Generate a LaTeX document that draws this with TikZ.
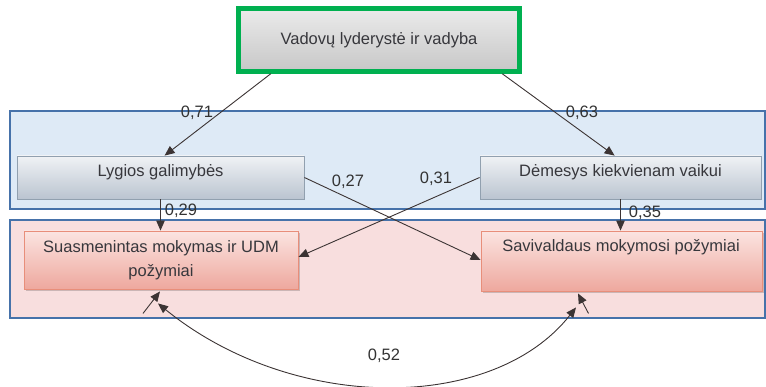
\documentclass[tikz,border=0pt]{standalone}
\usepackage{fontspec}
\setmainfont{Liberation Sans}
\usetikzlibrary{arrows.meta,calc,shadows}
\definecolor{bandblue}{RGB}{222,234,246}
\definecolor{bandline}{RGB}{70,114,170}
\definecolor{bandred}{RGB}{248,222,222}
\definecolor{grtop}{RGB}{240,242,245}
\definecolor{grbot}{RGB}{186,196,208}
\definecolor{grline}{RGB}{145,160,175}
\definecolor{rdtop}{RGB}{251,228,225}
\definecolor{rdbot}{RGB}{238,168,158}
\definecolor{rdline}{RGB}{232,142,122}
\definecolor{tgreen}{RGB}{0,176,80}
\definecolor{txt}{RGB}{55,55,60}
\definecolor{arr}{RGB}{60,52,52}
\begin{document}
\begin{tikzpicture}[x=1pt,y=-1pt,
  every node/.style={font=\fontsize{16.5}{24}\selectfont, text=txt},
  band/.style={draw=bandline, line width=1.1pt},
  graybox/.style={draw=grline, line width=0.8pt, top color=grtop, bottom color=grbot, inner sep=0pt},
  redbox/.style={draw=rdline, line width=0.9pt, top color=rdtop, bottom color=rdbot, inner sep=0pt,
     drop shadow={shadow xshift=2pt, shadow yshift=-2.5pt, fill=black, opacity=0.18}},
  conn/.style={draw=arr, line width=0.9pt, -{Triangle[length=10pt,width=8.5pt]}},
  lbl/.style={inner sep=0pt, text=black!80}
]
\useasboundingbox (0,0) rectangle (766,387);
% bands
\fill[bandblue] (10,111) rectangle (765,209);
\draw[band] (10,111) rectangle (765,209);
\fill[bandred] (10,220) rectangle (765,318);
\draw[band] (10,220) rectangle (765,318);
% top
\node[draw=tgreen, line width=4.5pt, top color=white!92!black, bottom color=black!22, minimum width=281pt, minimum height=63pt, inner sep=0pt] (top) at (379,40) {Vadovų lyderystė ir vadyba};
% gray boxes
\node[graybox, minimum width=287pt, minimum height=43pt] (lyg) at (160.5,177.5) {};
\node (lygT) at (160.5,172.5) {Lygios galimybės};
\node[graybox, minimum width=281pt, minimum height=43pt] (dem) at (620.5,177.5) {};
\node (demT) at (620.5,172.5) {Dėmesys kiekvienam vaikui};
% red boxes
\node[redbox, minimum width=274pt, minimum height=58pt, align=center] (sua) at (161,260) {Suasmenintas mokymas ir UDM\\požymiai};
\node[redbox, minimum width=281pt, minimum height=60pt] (sav) at (621.5,261) {};
\node (savT) at (621,247) {Savivaldaus mokymosi požymiai};
% connectors
\draw[conn] ($(top.south west)+(34.5,0)$) -- ($(lyg.north west)+(148,0)$);
\draw[conn] ($(top.south east)+(-19.5,0)$) -- ($(dem.north west)+(135,0)$);
\draw[conn] (lyg.east) -- ($(sav.west)+(0,-1)$);
\draw[conn] (dem.west) -- ($(sua.east)+(0,-3)$);
\draw[conn] (lyg.south) -- (lyg.south |- sua.north);
\draw[conn] (dem.south) -- (dem.south |- sav.north);
% stubs and curve
\coordinate (sl) at ($(sua.south)+(-18,24)$);
\coordinate (sr) at ($(sav.south)+(-33,22)$);
\coordinate (cl) at ($(sua.south)+(-3,14)$);
\coordinate (cr) at ($(sav.south)+(-45.5,16)$);
\draw[conn] (sl) -- ($(sua.south)+(-1,2)$);
\draw[conn] (sr) -- ($(sav.south)+(-43.5,2)$);
\draw[draw=arr, line width=0.9pt, {Triangle[length=10pt,width=8.5pt]}-{Triangle[length=10pt,width=8.5pt]}] (cl) .. controls (293,413) and (493,413) .. (cr);
% labels
\node[lbl] (l71) at (197,113) {0,71};
\node[lbl] (l63) at (582,113) {0,63};
\node[lbl] (l27) at (348,182) {0,27};
\node[lbl] (l31) at (436,179) {0,31};
\node[lbl] (l29) at (181,211) {0,29};
\node[lbl] (l35) at (645,213) {0,35};
\node[lbl] (l52) at (384,356) {0,52};
\end{tikzpicture}
\end{document}
